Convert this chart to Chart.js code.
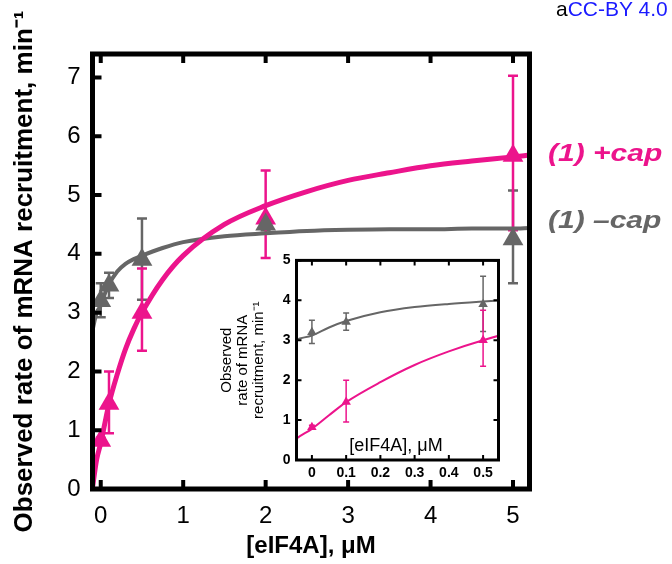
<!DOCTYPE html>
<html lang="en">
<head>
<meta charset="UTF-8" />
<title>eIF4A titration</title>
<script src="https://cdn.jsdelivr.net/npm/chart.js"></script>
<style>
  body { margin: 0; background: #fff; }
  #wrap { position: relative; width: 672px; height: 564px; overflow: hidden; }
  #main { position: absolute; left: 0; top: 0; }
  #inset { position: absolute; left: 210px; top: 246px; }
  #lic { position: absolute; left: 556px; top: -1px; font: 21px "Liberation Sans", Arial, sans-serif; line-height: 20px; white-space: nowrap; color: #000; }
  #lic span { color: #1a1aff; }
</style>
</head>
<body>
<div id="wrap">
  <canvas id="main" width="672" height="564"></canvas>
  <canvas id="inset" width="300" height="240"></canvas>
  <div id="lic">a<span>CC-BY 4.0</span></div>
</div>
<script>
// measured points, eIF4A in uM
const conc = [0, 0.1, 0.5, 2, 5];
const plusCap = [0.82, 1.45, 3.0, 4.6, 5.67];
const plusCapLow = [0.77, 0.95, 2.35, 3.93, 4.4];
const plusCapHigh = [0.87, 2.0, 3.75, 5.42, 7.03];
const minusCap = [3.2, 3.46, 3.9, 4.5, 4.25];
const minusCapLow = [2.92, 3.25, 3.22, 4.4, 3.5];
const minusCapHigh = [3.5, 3.68, 4.6, 4.6, 5.08];

// fitted curves
const fitX = [-0.1, -0.05, 0, 0.05, 0.1, 0.2, 0.3, 0.4, 0.5, 0.75, 1, 1.5, 2, 2.5, 3, 3.5, 4, 4.5, 5, 5.2];
const plusFit = [0.02, 0.5, 0.78, 1.12, 1.45, 1.95, 2.38, 2.72, 3.0, 3.56, 3.97, 4.5, 4.82, 5.06, 5.25, 5.38, 5.5, 5.58, 5.65, 5.68];
const minusFit = [2.7, 3.0, 3.12, 3.32, 3.48, 3.7, 3.83, 3.91, 3.97, 4.1, 4.2, 4.3, 4.35, 4.39, 4.41, 4.42, 4.42, 4.43, 4.43, 4.44];

const mainXTicks = [0, 1, 2, 3, 4, 5];
const mainYTicks = [0, 1, 2, 3, 4, 5, 6, 7];
const insetXTicks = [0, 0.1, 0.2, 0.3, 0.4, 0.5];
const insetYTicks = [0, 1, 2, 3, 4, 5];

const PINK = '#ec148c';
const GRAY = '#666666';
const FONT = '"Liberation Sans", Arial, Helvetica, sans-serif';

function pts(xs, ys) {
  return xs.map((x, i) => ({ x: x, y: ys[i] }));
}

const errorBars = {
  id: 'errorBars',
  beforeDatasetsDraw(chart, args, o) {
    const { ctx, chartArea: a, scales: { x, y } } = chart;
    ctx.save();
    ctx.beginPath();
    ctx.rect(a.left, a.top, a.width, a.height);
    ctx.clip();
    chart.data.datasets.forEach(ds => {
      if (!ds.errLow) return;
      ctx.strokeStyle = ds.backgroundColor;
      ctx.lineWidth = o.width;
      ds.data.forEach((p, i) => {
        const px = x.getPixelForValue(p.x);
        if (px < a.left || px > a.right) return;
        const lo = y.getPixelForValue(ds.errLow[i]);
        const hi = y.getPixelForValue(ds.errHigh[i]);
        ctx.beginPath();
        ctx.moveTo(px, lo); ctx.lineTo(px, hi);
        ctx.moveTo(px - o.cap, lo); ctx.lineTo(px + o.cap, lo);
        ctx.moveTo(px - o.cap, hi); ctx.lineTo(px + o.cap, hi);
        ctx.stroke();
      });
    });
    ctx.restore();
  }
};

const frame = {
  id: 'frame',
  afterDraw(chart, args, o) {
    const { ctx, chartArea: a, scales: { x, y } } = chart;
    ctx.save();
    ctx.strokeStyle = '#000';
    ctx.lineWidth = o.width;
    ctx.strokeRect(a.left, a.top, a.width, a.height);
    ctx.lineWidth = o.tickWidth;
    ctx.beginPath();
    x.ticks.forEach(t => {
      const px = x.getPixelForValue(t.value);
      ctx.moveTo(px, a.bottom); ctx.lineTo(px, a.bottom - o.tickLen);
      ctx.moveTo(px, a.top); ctx.lineTo(px, a.top + o.tickLen);
    });
    y.ticks.forEach(t => {
      const py = y.getPixelForValue(t.value);
      ctx.moveTo(a.left, py); ctx.lineTo(a.left + o.tickLen, py);
      if (o.right) { ctx.moveTo(a.right, py); ctx.lineTo(a.right - o.tickLen, py); }
    });
    ctx.stroke();
    (o.labels || []).forEach(l => {
      ctx.save();
      ctx.translate(l.x, l.y);
      ctx.scale(l.sx || 1, 1);
      ctx.font = l.font;
      ctx.fillStyle = l.color;
      ctx.textAlign = l.align || 'left';
      ctx.textBaseline = 'alphabetic';
      ctx.fillText(l.text, 0, 0);
      ctx.restore();
    });
    ctx.restore();
  }
};

function seriesSets(r, curveW) {
  return [
    { data: pts(conc, minusCap), errLow: minusCapLow, errHigh: minusCapHigh,
      backgroundColor: GRAY, pointStyle: 'triangle', pointRadius: r, pointHoverRadius: r, pointBorderWidth: 0, order: 0 },
    { data: pts(conc, plusCap), errLow: plusCapLow, errHigh: plusCapHigh,
      backgroundColor: PINK, pointStyle: 'triangle', pointRadius: r, pointHoverRadius: r, pointBorderWidth: 0, order: 1 },
    { data: pts(fitX, plusFit), showLine: true, borderColor: PINK, borderWidth: curveW[0],
      pointRadius: 0, pointHoverRadius: 0, cubicInterpolationMode: 'monotone', order: 2 },
    { data: pts(fitX, minusFit), showLine: true, borderColor: GRAY, borderWidth: curveW[1],
      pointRadius: 0, pointHoverRadius: 0, cubicInterpolationMode: 'monotone', order: 3 }
  ];
}

// main plot
new Chart(document.getElementById('main'), {
  type: 'scatter',
  data: { datasets: seriesSets(12, [5, 4]) },
  options: {
    responsive: false,
    animation: false,
    devicePixelRatio: 1,
    layout: { padding: { left: 0, top: 54, right: 142.5, bottom: 0 } },
    plugins: {
      legend: { display: false },
      tooltip: { enabled: false },
      errorBars: { width: 2.5, cap: 5 },
      frame: {
        width: 5, tickWidth: 4, tickLen: 9, right: false,
        labels: [
          { text: '(1) +cap', x: 548, y: 161, sx: 1.25, color: PINK, font: 'italic bold 24px ' + FONT },
          { text: '(1) \u2013cap', x: 548, y: 228, sx: 1.25, color: GRAY, font: 'italic bold 24px ' + FONT }
        ]
      }
    },
    scales: {
      x: {
        type: 'linear', min: -0.1, max: 5.2,
        afterBuildTicks: s => { s.ticks = mainXTicks.map(v => ({ value: v })); },
        afterFit: s => { s.height = 75; },
        grid: { display: false, drawTicks: false },
        border: { display: false },
        ticks: { color: '#000', padding: 13, font: { family: FONT, size: 24 } },
        title: { display: true, text: '[eIF4A], \u03bcM', color: '#000',
                 font: { family: FONT, size: 24, weight: 'bold' }, padding: { top: 0, bottom: 3 } }
      },
      y: {
        type: 'linear', min: 0, max: 7.4,
        afterBuildTicks: s => { s.ticks = mainYTicks.map(v => ({ value: v })); },
        afterFit: s => { s.width = 92.5; },
        grid: { display: false, drawTicks: false },
        border: { display: false },
        ticks: { color: '#000', padding: 12, font: { family: FONT, size: 24 } },
        title: { display: true, text: 'Observed rate of mRNA recruitment, min\u207b\u00b9', color: '#000',
                 font: { family: FONT, size: 26, weight: 'bold' }, padding: { top: 9, bottom: 0 } }
      }
    }
  },
  plugins: [errorBars, frame]
});

// inset, low concentrations
new Chart(document.getElementById('inset'), {
  type: 'scatter',
  data: { datasets: seriesSets(5.5, [2, 2]) },
  options: {
    responsive: false,
    animation: false,
    devicePixelRatio: 1,
    layout: { padding: { left: 0, top: 10.5, right: 11.5, bottom: 0 } },
    plugins: {
      legend: { display: false },
      tooltip: { enabled: false },
      errorBars: { width: 1.5, cap: 3 },
      frame: {
        width: 3, tickWidth: 2, tickLen: 5, right: true,
        labels: [
          { text: '[eIF4A], \u03bcM', x: 186, y: 205, align: 'center', color: '#000', font: '18px ' + FONT }
        ]
      }
    },
    scales: {
      x: {
        type: 'linear', min: -0.045, max: 0.545,
        afterBuildTicks: s => { s.ticks = insetXTicks.map(v => ({ value: v })); },
        afterFit: s => { s.height = 26; },
        grid: { display: false, drawTicks: false },
        border: { display: false },
        ticks: { color: '#000', padding: 5, font: { family: FONT, size: 14, weight: 'bold' } }
      },
      y: {
        type: 'linear', min: 0, max: 5,
        afterBuildTicks: s => { s.ticks = insetYTicks.map(v => ({ value: v })); },
        afterFit: s => { s.width = 86.5; },
        grid: { display: false, drawTicks: false },
        border: { display: false },
        ticks: { color: '#000', padding: 6, font: { family: FONT, size: 14, weight: 'bold' } },
        title: { display: true, text: ['Observed', 'rate of mRNA', 'recruitment, min\u207b\u00b9'], color: '#000',
                 font: { family: FONT, size: 15, lineHeight: 1.05 }, padding: { top: 9, bottom: 0 } }
      }
    }
  },
  plugins: [errorBars, frame]
});
</script>
</body>
</html>
